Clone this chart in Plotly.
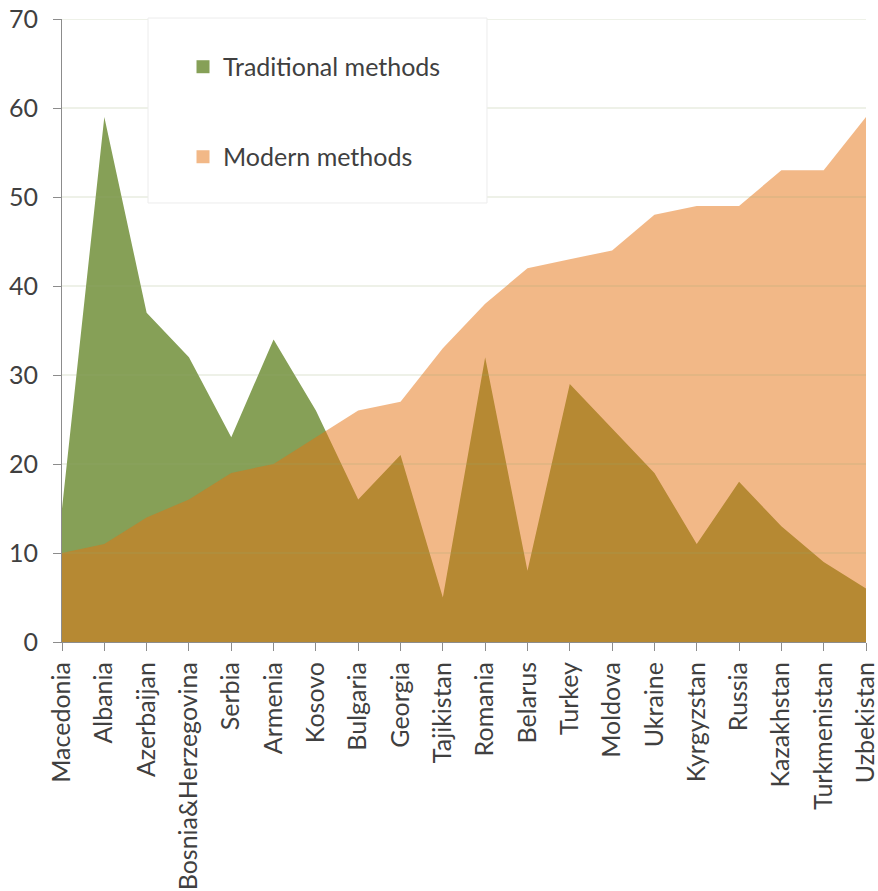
import plotly.graph_objects as go

countries = ["Macedonia", "Albania", "Azerbaijan", "Bosnia&Herzegovina", "Serbia", "Armenia",
             "Kosovo", "Bulgaria", "Georgia", "Tajikistan", "Romania", "Belarus", "Turkey",
             "Moldova", "Ukraine", "Kyrgyzstan", "Russia", "Kazakhstan", "Turkmenistan", "Uzbekistan"]
traditional = [15, 59, 37, 32, 23, 34, 26, 16, 21, 5, 32, 8, 29, 24, 19, 11, 18, 13, 9, 6]
modern = [10, 11, 14, 16, 19, 20, 23, 26, 27, 33, 38, 42, 43, 44, 48, 49, 49, 53, 53, 59]
y_ticks = [0, 10, 20, 30, 40, 50, 60, 70]

GREEN = "#86A057"
ORANGE_FILL = "rgba(229,113,15,0.5)"
ORANGE_LEG = "#F2B887"
FONT = "Lato"
TXT = "#404040"
AX = "#8C8C8C"

fig = go.Figure()
fig.add_trace(go.Scatter(x=countries, y=traditional, mode="none", fill="tozeroy",
                         fillcolor=GREEN, showlegend=False, hoverinfo="skip"))
fig.add_trace(go.Scatter(x=countries, y=modern, mode="none", fill="tozeroy",
                         fillcolor=ORANGE_FILL, showlegend=False, hoverinfo="skip"))
# legend entries
fig.add_trace(go.Scatter(x=[None], y=[None], mode="markers", name="Traditional methods",
                         marker=dict(symbol="square", size=13, color=GREEN), legend="legend"))
fig.add_trace(go.Scatter(x=[None], y=[None], mode="markers", name="Modern methods",
                         marker=dict(symbol="square", size=13, color=ORANGE_LEG), legend="legend2"))

# gridlines drawn above the areas (as in the reference)
for v in y_ticks[1:]:
    fig.add_shape(type="line", xref="paper", yref="y", x0=0, x1=1, y0=v, y1=v,
                  line=dict(color="rgba(150,170,110,0.16)", width=2), layer="above")
# legend box
fig.add_shape(type="rect", xref="paper", yref="paper", x0=0.107, x1=0.5286, y0=0.7047, y1=1.0016,
              fillcolor="white", line=dict(color="#ECECEC", width=1), layer="above")

leg_common = dict(bgcolor="rgba(0,0,0,0)", borderwidth=0, font=dict(family=FONT, size=25, color=TXT),
                  xanchor="left", yanchor="middle", itemwidth=30)
fig.update_layout(
    width=878, height=891,
    margin=dict(l=62, r=12, t=19, b=249, autoexpand=False),
    paper_bgcolor="white", plot_bgcolor="white",
    font=dict(family=FONT, size=25, color=TXT),
    hovermode=False,
    legend=dict(x=0.1505, y=0.923, **leg_common),
    legend2=dict(x=0.1505, y=0.7785, **leg_common),
    xaxis=dict(type="category", range=[0, len(countries) - 1], tickangle=-90, automargin=False,
               ticks="outside", ticklen=8, tickcolor=AX, showline=True, linecolor=AX,
               showgrid=False, zeroline=False, ticklabelstandoff=1, ticklabeloverflow="allow",
               tickfont=dict(family=FONT, size=25, color=TXT)),
    yaxis=dict(range=[0, 70], tickvals=y_ticks, ticks="outside", ticklen=8, tickcolor=AX,
               showline=True, linecolor=AX, showgrid=False, zeroline=False, automargin=False,
               ticklabelstandoff=10, ticklabeloverflow="allow",
               tickfont=dict(family=FONT, size=25, color=TXT)),
)
fig.write_html("out.html", config={"displayModeBar": False},
               post_script="document.body.style.margin='0px';")
